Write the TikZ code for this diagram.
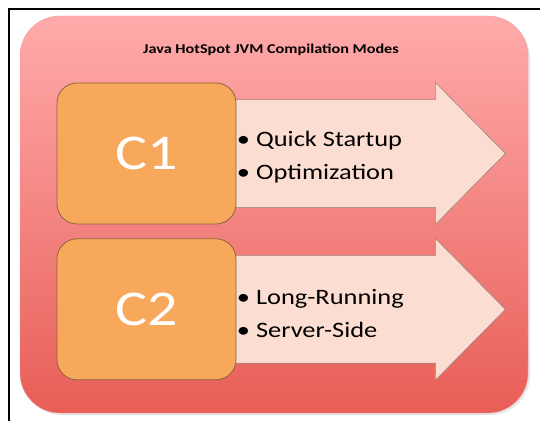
\documentclass[tikz,border=0pt]{standalone}
\usepackage{fontspec}
\setmainfont{Carlito}
\usepackage{tikz}
\usetikzlibrary{positioning, shadows}
\definecolor{panelpink}{HTML}{FFABAB}
\definecolor{panelred}{HTML}{E85E57}
\definecolor{modeorange}{HTML}{F8A85A}
\definecolor{modeedge}{HTML}{8C6440}
\definecolor{arrowpeach}{HTML}{FCDDD1}
\definecolor{arrowedge}{HTML}{9C8480}
\tikzset{
  panel/.style={rectangle, rounded corners=40pt, top color=panelpink,
                bottom color=panelred, draw=panelred!60!white,
                drop shadow={opacity=0.2, shadow xshift=2pt, shadow yshift=-2pt}},
  modebox/.style={rectangle, rounded corners=20pt, fill=modeorange,
                  draw=modeedge, line width=0.8pt, text=white,
                  minimum width=179pt, minimum height=141pt,
                  font=\fontsize{50}{50}\selectfont},
  modearrow/.style={fill=arrowpeach, draw=arrowedge, line width=0.6pt,
                    line join=miter},
  bullets/.style={anchor=west, align=left, text=black,
                  font=\fontsize{22}{33}\selectfont},
}
% horizontal stretch of the printed text
\newcommand{\wide}[1]{\scalebox{1.2}[1]{#1}}
% arrow shape behind a mode box: #1 = box name
\newcommand{\modeshape}[1]{%
  \path[modearrow]
    ([xshift=-6pt, yshift=-17pt]#1.north east)
    -- ([xshift=199pt, yshift=-17pt]#1.north east)
    -- ([xshift=199pt]#1.north east)
    -- ([xshift=269pt]#1.east)
    -- ([xshift=199pt]#1.south east)
    -- ([xshift=199pt, yshift=17pt]#1.south east)
    -- ([xshift=-6pt, yshift=17pt]#1.south east) -- cycle;}

\begin{document}
\begin{tikzpicture}[x=1pt, y=1pt]
  \useasboundingbox (0,0) rectangle (540,420);

  % frame
  \draw[line width=2pt] (9,-5) -- (9,411) -- (545,411);

  % background panel
  \node[panel, minimum width=508pt, minimum height=397pt] (panel) at (274,205.5) {};
  \node[font=\fontsize{13.5}{13.5}\selectfont\bfseries] (title) at (271,370)
    {\wide{Java HotSpot JVM Compilation Modes}};

  % mode boxes
  \node[modebox, draw=none] (c1) at (146.5,266.5) {};
  \node[modebox, draw=none, below=14pt of c1] (c2) {};

  % arrows
  \modeshape{c1}
  \modeshape{c2}

  \node[modebox] (c1text) at (c1) {\wide{C1}};
  \node[modebox] (c2text) at (c2) {\wide{C2}};

  % bullet lists
  \node[bullets, xshift=-3pt, yshift=-4pt] (c1list) at (c1.east)
    {\wide{\textbullet\hspace{5pt}Quick Startup}\\\wide{\textbullet\hspace{5pt}Optimization}};
  \node[bullets, xshift=-3pt, yshift=-4pt] (c2list) at (c2.east)
    {\wide{\textbullet\hspace{5pt}Long-Running}\\\wide{\textbullet\hspace{5pt}Server-Side}};
\end{tikzpicture}
\end{document}
